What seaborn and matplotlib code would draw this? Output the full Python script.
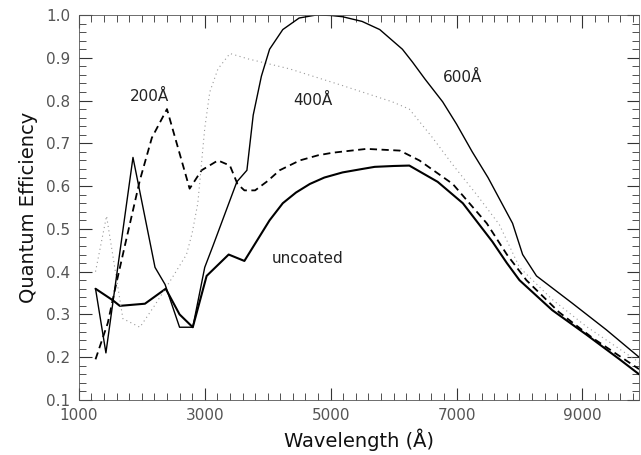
import numpy as np
import pandas as pd
import matplotlib
matplotlib.use("Agg")
import matplotlib.pyplot as plt
from matplotlib.ticker import MultipleLocator, FixedLocator
import seaborn as sns

# curve values (wavelength in Angstrom, QE)
wl_uncoated = [1265, 1540, 1650, 2050, 2380, 2600, 2810, 3030, 3380, 3630, 4030, 4240, 4450,
               4670, 4900, 5190, 5500, 5700, 6000, 6250, 6700, 7100, 7570, 7800, 8000, 8520,
               9060, 9590, 9900]
qe_uncoated = [0.36, 0.333, 0.32, 0.325, 0.36, 0.30, 0.27, 0.39, 0.44, 0.425, 0.52, 0.56, 0.585,
               0.605, 0.62, 0.632, 0.64, 0.645, 0.647, 0.648, 0.61, 0.56, 0.47, 0.42, 0.38, 0.31,
               0.253, 0.195, 0.16]

wl_200 = [1265, 1460, 1570, 1730, 1970, 2160, 2400, 2760, 2950, 3210, 3400, 3520, 3630, 3800,
          4000, 4190, 4510, 4800, 5030, 5570, 6100, 6410, 6940, 7480, 7800, 8110, 8630, 9160, 9900]
qe_200 = [0.195, 0.28, 0.356, 0.46, 0.614, 0.713, 0.78, 0.594, 0.637, 0.66, 0.648, 0.605, 0.59,
          0.59, 0.612, 0.637, 0.66, 0.672, 0.678, 0.687, 0.683, 0.66, 0.605, 0.513, 0.44, 0.38,
          0.305, 0.245, 0.172]

wl_400 = [1265, 1440, 1700, 1970, 2200, 2480, 2710, 2800, 2890, 3000, 3080, 3210, 3400, 3700,
          4350, 5190, 5980, 6250, 6620, 6940, 7320, 7680, 8000, 8520, 9060, 9900]
qe_400 = [0.40, 0.53, 0.29, 0.27, 0.32, 0.385, 0.44, 0.49, 0.56, 0.735, 0.82, 0.874, 0.91, 0.897,
          0.874, 0.835, 0.797, 0.78, 0.713, 0.65, 0.58, 0.51, 0.41, 0.335, 0.272, 0.188]

wl_600 = [1265, 1430, 1860, 2210, 2370, 2600, 2810, 3000, 3130, 3510, 3670, 3770, 3900, 4030,
          4240, 4500, 4770, 5000, 5190, 5500, 5780, 6140, 6300, 6500, 6780, 7000, 7250, 7500,
          7890, 8050, 8270, 8840, 9380, 9900]
qe_600 = [0.36, 0.21, 0.667, 0.41, 0.37, 0.27, 0.27, 0.41, 0.46, 0.61, 0.637, 0.766, 0.857, 0.92,
          0.966, 0.993, 1.0, 0.999, 0.996, 0.985, 0.966, 0.92, 0.89, 0.85, 0.797, 0.745, 0.68,
          0.62, 0.513, 0.44, 0.39, 0.326, 0.264, 0.20]

x_ticks = [1000, 3000, 5000, 7000, 9000]
y_ticks = [0.1, 0.2, 0.3, 0.4, 0.5, 0.6, 0.7, 0.8, 0.9, 1.0]

sns.set_style("ticks")
plt.rcParams["font.family"] = ["DejaVu Sans"]

fig = plt.figure(figsize=(6.41, 4.55), dpi=100)
ax = fig.add_axes([0.123, 0.121, 0.874, 0.846])

sns.lineplot(x=wl_uncoated, y=qe_uncoated, ax=ax, color="black", linewidth=1.5, sort=False)
sns.lineplot(x=wl_200, y=qe_200, ax=ax, color="black", linewidth=1.3, sort=False,
             linestyle=(0, (4, 2.5)))
sns.lineplot(x=wl_400, y=qe_400, ax=ax, color="#999999", linewidth=0.8, sort=False,
             linestyle=(0, (1, 3)))
sns.lineplot(x=wl_600, y=qe_600, ax=ax, color="black", linewidth=1.0, sort=False)

ax.text(2130, 0.81, "200Å", fontsize=11, ha="center", va="center", color="#222222")
ax.text(4710, 0.80, "400Å", fontsize=11, ha="center", va="center", color="#222222")
ax.text(7100, 0.855, "600Å", fontsize=11, ha="center", va="center", color="#222222")
ax.text(4640, 0.43, "uncoated", fontsize=11, ha="center", va="center", color="#222222")

ax.set_xlim(1000, 9900)
ax.set_ylim(0.1, 1.0)
ax.xaxis.set_major_locator(FixedLocator(x_ticks))
ax.xaxis.set_minor_locator(MultipleLocator(200))
ax.yaxis.set_major_locator(FixedLocator(y_ticks))
ax.yaxis.set_minor_locator(MultipleLocator(0.02))
ax.set_xticklabels([str(t) for t in x_ticks])
ax.set_yticklabels([f"{t:.1f}" for t in y_ticks])
ax.tick_params(which="both", direction="in", top=True, right=True, colors="#333333")
ax.tick_params(which="major", length=9, width=0.8, labelsize=11, labelcolor="#555555", pad=6)
ax.tick_params(which="minor", length=5, width=0.6)
for sp in ax.spines.values():
    sp.set_linewidth(0.6)
    sp.set_color("#555555")

ax.set_xlabel("Wavelength (Å)", fontsize=14, color="#111111", labelpad=4)
ax.set_ylabel("Quantum Efficiency", fontsize=14, color="#111111", labelpad=6)

fig.savefig("out.png", dpi=100)
